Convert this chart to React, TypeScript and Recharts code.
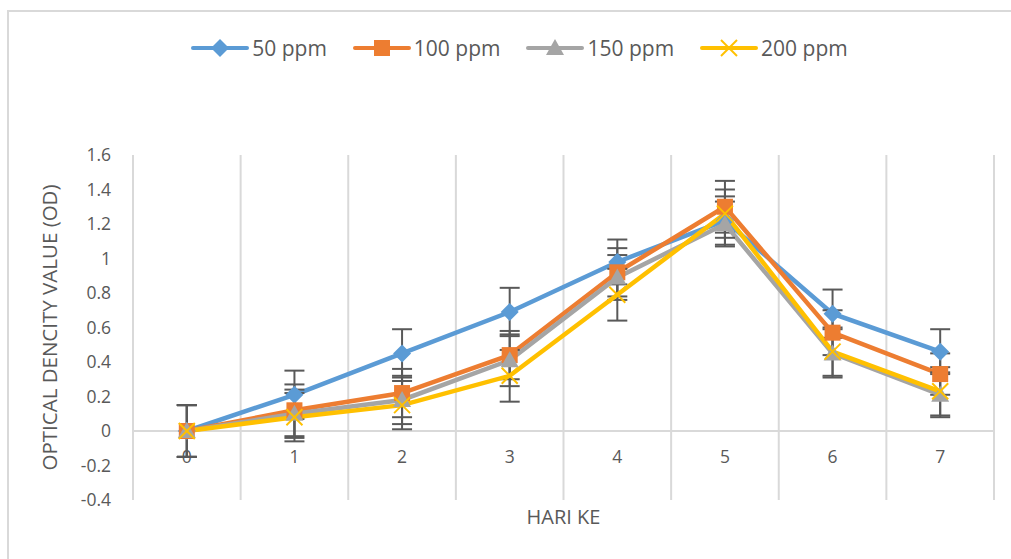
import {
  LineChart,
  Line,
  XAxis,
  YAxis,
  ReferenceLine,
  ReferenceDot,
  ErrorBar,
} from "recharts";

const days = [0, 1, 2, 3, 4, 5, 6, 7];
const ppm50 = [0, 0.21, 0.45, 0.69, 0.98, 1.22, 0.68, 0.46];
const ppm100 = [0, 0.12, 0.22, 0.44, 0.92, 1.3, 0.57, 0.33];
const ppm150 = [0, 0.1, 0.18, 0.41, 0.89, 1.2, 0.45, 0.21];
const ppm200 = [0, 0.08, 0.15, 0.32, 0.79, 1.26, 0.46, 0.23];
const err50 = [0.15, 0.14, 0.14, 0.14, 0.13, 0.14, 0.14, 0.13];
const err100 = [0.15, 0.15, 0.14, 0.14, 0.14, 0.15, 0.13, 0.12];
const err150 = [0.15, 0.14, 0.14, 0.15, 0.13, 0.13, 0.14, 0.13];
const err200 = [0.15, 0.14, 0.14, 0.15, 0.15, 0.14, 0.14, 0.14];
const yTicks = [-0.4, -0.2, 0, 0.2, 0.4, 0.6, 0.8, 1, 1.2, 1.4, 1.6];
const gridEdges = [-0.5, 0.5, 1.5, 2.5, 3.5, 4.5, 5.5, 6.5, 7.5];

const series = [
  { key: "s50", err: "e50", name: "50 ppm", color: "#5B9BD5", marker: "diamond" },
  { key: "s100", err: "e100", name: "100 ppm", color: "#ED7D31", marker: "square" },
  { key: "s150", err: "e150", name: "150 ppm", color: "#A5A5A5", marker: "triangle" },
  { key: "s200", err: "e200", name: "200 ppm", color: "#FFC000", marker: "x" },
];

const data = days.map((d, i) => ({
  day: d,
  s50: ppm50[i],
  s100: ppm100[i],
  s150: ppm150[i],
  s200: ppm200[i],
  e50: err50[i],
  e100: err100[i],
  e150: err150[i],
  e200: err200[i],
}));

const TEXT = "#595959";
const GRID = "#D9D9D9";
const FONT = "'Open Sans', sans-serif";

function marker(kind: string, color: string, cx: number, cy: number, key?: any) {
  if (kind === "diamond")
    return (
      <polygon key={key} points={`${cx},${cy - 9} ${cx + 9},${cy} ${cx},${cy + 9} ${cx - 9},${cy}`} fill={color} />
    );
  if (kind === "square")
    return <rect key={key} x={cx - 8} y={cy - 8} width={16} height={16} fill={color} />;
  if (kind === "triangle")
    return (
      <polygon key={key} points={`${cx},${cy - 9} ${cx + 9},${cy + 7} ${cx - 9},${cy + 7}`} fill={color} />
    );
  return (
    <g key={key} stroke={color} strokeWidth={2}>
      <line x1={cx - 8} y1={cy - 8} x2={cx + 8} y2={cy + 8} />
      <line x1={cx - 8} y1={cy + 8} x2={cx + 8} y2={cy - 8} />
    </g>
  );
}

function LegendRow() {
  return (
    <div
      style={{
        position: "absolute",
        top: 34,
        left: 14,
        width: 1011,
        display: "flex",
        justifyContent: "center",
        gap: 26,
        fontSize: 21,
        color: TEXT,
      }}
    >
      {series.map((s) => (
        <div key={s.key} style={{ display: "flex", alignItems: "center", gap: 3 }}>
          <svg width={58} height={22}>
            <line x1={2} y1={11} x2={56} y2={11} stroke={s.color} strokeWidth={4} strokeLinecap="round" />
            {marker(s.marker, s.color, 29, 11)}
          </svg>
          <span>{s.name}</span>
        </div>
      ))}
    </div>
  );
}

export default function App() {
  return (
    <div
      style={{
        position: "absolute",
        left: 0,
        top: 0,
        width: 1011,
        height: 559,
        overflow: "hidden",
        background: "#fff",
        fontFamily: FONT,
      }}
    >
      <div
        style={{
          position: "absolute",
          left: 7,
          top: 10,
          width: 1100,
          height: 700,
          border: `2px solid ${GRID}`,
        }}
      />
      <LegendRow />
      <LineChart
        width={1011}
        height={559}
        data={data}
        margin={{ top: 155, right: 17, bottom: 0, left: 33 }}
      >
        <XAxis
          type="number"
          dataKey="day"
          domain={[-0.5, 7.5]}
          ticks={days}
          tick={false}
          axisLine={false}
          tickLine={false}
          height={59}
          label={{ value: "HARI KE", position: "insideTop", offset: 10, fill: TEXT, fontSize: 20 }}
        />
        <YAxis
          domain={[-0.4, 1.6]}
          ticks={yTicks}
          allowDataOverflow
          axisLine={false}
          tickLine={false}
          tickSize={0}
          tickMargin={22}
          width={100}
          tick={{ fill: TEXT, fontSize: 17.5 }}
          tickFormatter={(v: number) => String(v)}
          label={{
            value: "OPTICAL DENCITY VALUE (OD)",
            angle: -90,
            position: "insideLeft",
            offset: 17,
            fill: TEXT,
            fontSize: 20.5,
            style: { textAnchor: "middle" },
          }}
        />
        {gridEdges.map((g) => (
          <ReferenceLine key={`gx${g}`} x={g} stroke={GRID} strokeWidth={2} />
        ))}
        <ReferenceLine y={0} stroke={GRID} strokeWidth={2} />
        {days.map((d) => (
          <ReferenceDot
            key={`lab${d}`}
            x={d}
            y={0}
            r={0}
            fill="none"
            stroke="none"
            label={{ value: String(d), position: "bottom", offset: 20, fill: TEXT, fontSize: 17.5 }}
          />
        ))}
        {series.map((s) => (
          <Line
            key={s.key}
            dataKey={s.key}
            name={s.name}
            stroke={s.color}
            strokeWidth={4.5}
            isAnimationActive={false}
            dot={(p: any) => marker(s.marker, s.color, p.cx, p.cy, `${s.key}-${p.index}`)}
            activeDot={false}
          >
            <ErrorBar
              dataKey={s.err}
              direction="y"
              width={10}
              stroke="#595959"
              strokeWidth={2}
              isAnimationActive={false}
            />
          </Line>
        ))}
      </LineChart>
    </div>
  );
}
